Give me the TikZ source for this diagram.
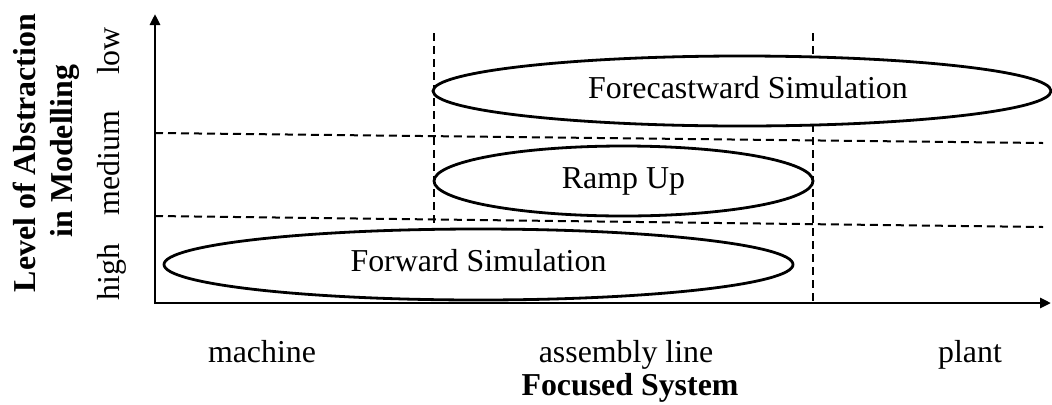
\documentclass[tikz,border=0pt]{standalone}
\usepackage{fontspec}
\setmainfont{Liberation Serif}
\usetikzlibrary{arrows.meta,shapes.geometric}
\tikzset{
  axis/.style={line width=2.8bp,line join=miter,{Triangle[length=11bp,width=10bp]}-{Triangle[length=11bp,width=10bp]}},
  grid line/.style={line width=2bp,dash pattern=on 8bp off 5bp},
  zone/.style={draw,fill=white,ellipse,line width=2.8bp,inner sep=0pt,text height=22bp,text depth=8bp},
  lbl/.style={anchor=base,inner sep=0pt},
}
\begin{document}
\begin{tikzpicture}[x=1bp,y=-1bp,font=\fontsize{32}{38}\selectfont]
\useasboundingbox (0,0) rectangle (1052,404);

%пунктир
\coordinate (h1a) at (155,133); \coordinate (h1b) at (1043,143);
\coordinate (h2a) at (155,216); \coordinate (h2b) at (1043,227);
\coordinate (v1a) at (434,33); \coordinate (v1b) at (434,303);
\coordinate (v2a) at (813,33); \coordinate (v2b) at (813,303);
\draw[grid line] (h1a) -- (h1b);
\draw[grid line] (h2a) -- (h2b);
\draw[grid line] (v1a) -- (v1b);
\draw[grid line] (v2a) -- (v2b);

%оси
\coordinate (O) at (155,303);
\coordinate (ytop) at (155,14);
\coordinate (xend) at (1051,303);
\draw[axis] (ytop) -- (O) -- (xend);

%эллипсы
\node[zone,minimum width=618bp,minimum height=70bp] (forecast) at (742,91) {\hspace*{12bp}Forecastward Simulation};
\node[zone,minimum width=379bp,minimum height=70bp] (ramp) at (623.5,181) {Ramp Up};
\node[zone,minimum width=629bp,minimum height=71bp] (forward) at (478.5,264.5) {Forward Simulation};

%подписи по x
\node[lbl] (machine) at (262,362) {machine};
\node[lbl] (assembly) at (626,362) {assembly line};
\node[lbl] (plant) at (970,362) {plant};
\node[lbl] (xlabel) at (630,395) {\bfseries Focused System};

%подписи по y
\node[lbl,rotate=90] (ylabel1) at (35,153) {\bfseries Level of Abstraction};
\node[lbl,rotate=90] (ylabel2) at (72,151) {\bfseries in Modelling};
\node[lbl,rotate=90] (high) at (119,272) {high};
\node[lbl,rotate=90] (medium) at (119,163) {medium};
\node[lbl,rotate=90] (low) at (119,51) {low};

\end{tikzpicture}
\end{document}
